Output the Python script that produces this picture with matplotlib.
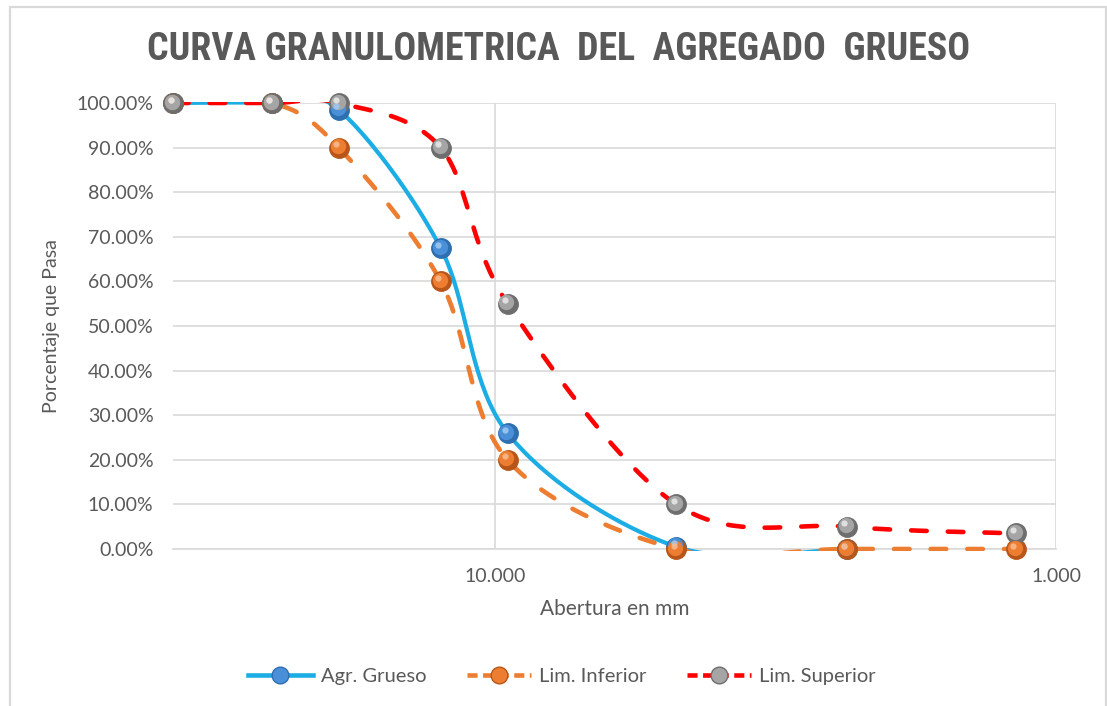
import numpy as np
import matplotlib
matplotlib.use("Agg")
import matplotlib.pyplot as plt
from matplotlib.lines import Line2D
from matplotlib.patches import Rectangle
from matplotlib.ticker import FixedLocator, NullLocator, FuncFormatter
import matplotlib.transforms as mtransforms
import logging
logging.getLogger("matplotlib.font_manager").setLevel(logging.ERROR)

# ---- data ----
abertura = [37.5, 25.0, 19.0, 12.5, 9.5, 4.75, 2.36, 1.18]
agr_grueso = [100.0, 100.0, 98.5, 67.5, 26.0, 0.5, 0.0]
lim_inferior = [100.0, 100.0, 90.0, 60.0, 20.0, 0.0, 0.0, 0.0]
lim_superior = [100.0, 100.0, 100.0, 90.0, 55.0, 10.0, 5.0, 3.5]
x_ticks = [10.0, 1.0]
y_ticks = [0, 10, 20, 30, 40, 50, 60, 70, 80, 90, 100]

title = "CURVA GRANULOMETRICA  DEL  AGREGADO  GRUESO"
xlabel = "Abertura en mm"
ylabel = "Porcentaje que Pasa"
names = ["Agr. Grueso", "Lim. Inferior", "Lim. Superior"]

GRAY_TXT = "#595959"
GRID = "#D9D9D9"


def excel_smooth(xs, ys, n=40):
    """Bezier smoothing (Excel-like) computed in (log10 x, y) space."""
    px = np.log10(np.asarray(xs, float))
    py = np.asarray(ys, float)
    m = len(px)
    outx, outy = [], []
    for i in range(m - 1):
        p0 = np.array([px[max(i - 1, 0)], py[max(i - 1, 0)]])
        p1 = np.array([px[i], py[i]])
        p2 = np.array([px[i + 1], py[i + 1]])
        p3 = np.array([px[min(i + 2, m - 1)], py[min(i + 2, m - 1)]])
        c1 = p1 + (p2 - p0) / 6.0
        c2 = p2 - (p3 - p1) / 6.0
        t = np.linspace(0, 1, n)[:, None]
        b = ((1 - t) ** 3) * p1 + 3 * ((1 - t) ** 2) * t * c1 + 3 * (1 - t) * t ** 2 * c2 + t ** 3 * p2
        if i > 0:
            b = b[1:]
        outx.append(b[:, 0])
        outy.append(b[:, 1])
    return 10 ** np.concatenate(outx), np.concatenate(outy)


plt.rcParams['font.family'] = ['Lato', 'DejaVu Sans']

fig = plt.figure(figsize=(11.07, 7.06), dpi=100)
fig.patch.set_facecolor("white")

# outer chart border
fig.patches.append(Rectangle((9.5 / 1107, -0.01), (1106 - 9.5) / 1107, 1 - 6.5 / 706 + 0.01,
                             transform=fig.transFigure, fill=False, edgecolor=GRID, linewidth=1.6))

L, R, T, B = 173, 1056, 103, 549
ax = fig.add_axes([L / 1107, 1 - B / 706, (R - L) / 1107, (B - T) / 706])
ax.set_xscale("log")
ax.set_xlim(37.5, 1.0)
ax.set_ylim(0, 100)

for s in ["top", "left", "right"]:
    ax.spines[s].set_visible(False)
ax.spines["bottom"].set_color(GRID)
ax.spines["bottom"].set_linewidth(1.2)

ax.xaxis.set_major_locator(FixedLocator(x_ticks))
ax.xaxis.set_minor_locator(NullLocator())
ax.xaxis.set_major_formatter(FuncFormatter(lambda v, p: f"{v:.3f}"))
ax.yaxis.set_major_locator(FixedLocator(y_ticks))
ax.yaxis.set_major_formatter(FuncFormatter(lambda v, p: f"{v:.2f}%"))
ax.tick_params(axis="both", length=0, colors=GRAY_TXT, labelsize=14)
ax.tick_params(axis="y", pad=14)
ax.tick_params(axis="x", pad=14)
ax.grid(True, color=GRID, linewidth=1.2)
ax.set_axisbelow(True)

clip = Rectangle((0, -0.005), 1, 1.008, transform=ax.transAxes, visible=False)
ax.add_patch(clip)

series = [
    (agr_grueso, "#1CADE4", "-", ("#2E6FB0", "#4A90D9", "#9CC8F0")),
    (lim_inferior, "#ED7D31", "--", ("#B8561A", "#ED7D31", "#F8B98A")),
    (lim_superior, "#FF0000", "--", ("#6E6E6E", "#A5A5A5", "#E6E6E6")),
]

off1 = mtransforms.offset_copy(ax.transData, fig=fig, x=-0.8, y=1.0, units="points")
off2 = mtransforms.offset_copy(ax.transData, fig=fig, x=-1.8, y=2.4, units="points")

for vals, col, ls, mcols in series:
    xs = abertura[:len(vals)]
    sx, sy = excel_smooth(xs, vals)
    if ls == "-":
        ln, = ax.plot(sx, sy, color=col, lw=3.0, solid_capstyle="round", zorder=3)
    else:
        ln, = ax.plot(sx, sy, color=col, lw=3.3, linestyle=(0, (3.4, 4.6)),
                      dash_capstyle="round", zorder=3)
    ln.set_clip_path(clip)
    ax.plot(xs, vals, linestyle="none", marker="o", markersize=14,
            markerfacecolor=mcols[0], markeredgecolor=mcols[0], zorder=4, clip_on=False)
    ax.plot(xs, vals, linestyle="none", marker="o", markersize=11,
            markerfacecolor=mcols[1], markeredgecolor="none", zorder=5, clip_on=False,
            transform=off1)
    ax.plot(xs, vals, linestyle="none", marker="o", markersize=4.5,
            markerfacecolor=mcols[2], markeredgecolor="none", zorder=6, clip_on=False,
            transform=off2, alpha=0.9)

ax.set_xlabel(xlabel, color=GRAY_TXT, fontsize=15, labelpad=10)
ax.set_ylabel(ylabel, color=GRAY_TXT, fontsize=14, labelpad=12)

ttl = fig.text(559 / 1107, 1 - 50 / 706, title, ha="center", va="center", color=GRAY_TXT,
               fontsize=29, fontweight="bold", fontstretch="condensed",
               family=["Roboto Condensed", "Liberation Sans Narrow", "DejaVu Sans"])
renderer = fig.canvas.get_renderer()
w = ttl.get_window_extent(renderer).width
if w > 822:
    ttl.set_fontsize(29 * 822 / w)

handles = []
for (vals, col, ls, mcols), nm in zip(series, names):
    handles.append(Line2D([], [], color=col, lw=3.3, linestyle=ls if ls == "-" else (0, (2.2, 1.2)),
                          marker="o", markersize=12, markerfacecolor=mcols[1],
                          markeredgecolor=mcols[0], label=nm))
leg = fig.legend(handles=handles, loc="center", bbox_to_anchor=(562 / 1107, 1 - 676 / 706),
                 ncol=3, frameon=False, fontsize=14.5, handlelength=3.2, columnspacing=2.0,
                 handletextpad=0.4, labelcolor=GRAY_TXT)

fig.savefig("out.png", dpi=100, facecolor="white")
